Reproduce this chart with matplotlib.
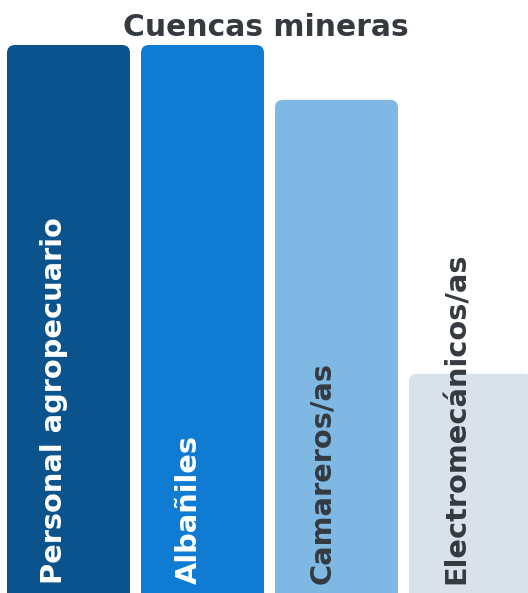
import matplotlib.pyplot as plt
from matplotlib.patches import FancyBboxPatch

# data
categories = ["Personal agropecuario", "Albañiles", "Camareros/as", "Electromecánicos/as"]
values = [100, 100, 90, 40]
colors = ["#0b538c", "#0f7bd2", "#80b8e4", "#d9e1ea"]
label_colors = ["#ffffff", "#ffffff", "#343a40", "#343a40"]

W, H = 528, 593
fig = plt.figure(figsize=(W / 100, H / 100), dpi=100)
ax = fig.add_axes([0, 0, 1, 1])
ax.set_axis_off()

step_px = 134.0
ppu_y = 5.48  # pixels per value unit
x = list(range(len(categories)))
bars = ax.bar(x, values, width=123 / step_px, color=colors)

ax.set_xlim(-68.5 / step_px, (W - 68.5) / step_px)
ax.set_ylim(0, H / ppu_y)

# replace plain bars with top-rounded ones
aspect = step_px / ppu_y
r = 8 / step_px
for b in bars:
    bx, by = b.get_x(), b.get_y()
    bw, bh = b.get_width(), b.get_height()
    b.set_visible(False)
    extra = 20 / ppu_y
    p = FancyBboxPatch((bx, by - extra), bw, bh + extra,
                       boxstyle=f"round,pad=0,rounding_size={r}",
                       mutation_aspect=aspect,
                       facecolor=b.get_facecolor(), edgecolor="none")
    ax.add_patch(p)

# rotated labels, anchored near bottom of each bar
for i, (cat, tc) in enumerate(zip(categories, label_colors)):
    ax.text(i - 6 / step_px, 9 / ppu_y, cat, rotation=90, rotation_mode="anchor",
            ha="left", va="baseline", color=tc, fontsize=20.8,
            fontweight="bold", family="DejaVu Sans")

fig.text(266 / W, 1 - 36 / H, "Cuencas mineras", ha="center", va="baseline",
         fontsize=21.4, fontweight="bold", color="#343a40", family="DejaVu Sans")

fig.savefig("out.png", dpi=100)
